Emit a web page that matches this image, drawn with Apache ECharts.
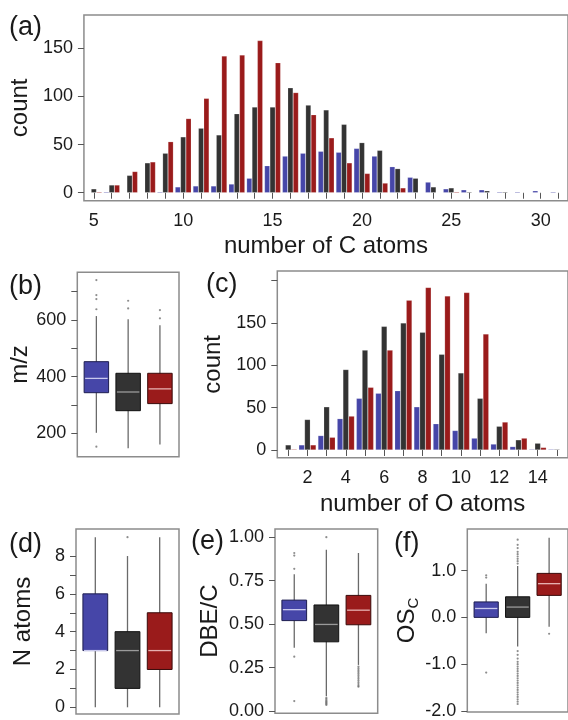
<!DOCTYPE html>
<html>
<head>
<meta charset="utf-8">
<script src="https://cdn.jsdelivr.net/npm/echarts@6/dist/echarts.min.js"></script>
<style>
html,body{margin:0;padding:0;background:#fff;overflow:hidden;}
#chart{width:568px;height:720px;}
</style>
</head>
<body>
<div id="chart"></div>
<script>
// ---------- data ----------
// (a) number of C atoms
const cAtoms = [5,6,7,8,9,10,11,12,13,14,15,16,17,18,19,20,21,22,23,24,25,26,27,28,29,30,31];
const cBlue  = [0,1,0,0,1,6,7,7,9,15,28,38,41,43,42,46,38,27,16,11,4,3,3,1,1,2,1];
const cDark  = [4,8,18,31,41,58,67,60,82,89,89,109,91,86,71,52,44,25,15,6,5,1,2,1,0,0,0];
const cRed   = [1,8,22,32,53,77,98,142,143,158,135,104,81,57,31,20,10,5,0,0,1,0,0,0,0,0,0];
const cLabels = [5,10,15,20,25,30];
const aYTicks = [0,50,100,150];

// (c) number of O atoms
const oAtoms = [1,2,3,4,5,6,7,8,9,10,11,12,13,14,15];
const oBlue  = [0,6,17,37,61,67,70,51,31,23,14,7,4,1,1];
const oDark  = [6,36,51,95,118,146,150,139,113,91,61,28,12,8,1];
const oRed   = [1,6,15,40,74,118,177,192,182,186,137,33,14,3,0];
const oLabels = [2,4,6,8,10,12,14];
const cYTicks = [0,50,100,150,200];
const cYLabels = [0,50,100,150];

// box stats: [low whisker, Q1, median, Q3, high whisker] for blue, dark, red
const mzBox = [[202,343.5,394,453,614],[147,280,346,412,603],[161,305,357,412,582]];
const mzOut = [[741,688,674,638,153],[668,641],[635,606]];
const mzTicks = [200,300,400,500,600,700];
const mzLabels = [200,400,600];

const nBox = [[0,3,3,6,9],[0,1,3,4,8],[0,2,3,5,9]];
const nOut = [[],[9],[]];
const nTicks = [0,1,2,3,4,5,6,7,8];
const nLabels = [0,2,4,6,8];

const dbeBox = [[0.364,0.52,0.583,0.638,0.786],[0.085,0.398,0.498,0.61,0.928],[0.265,0.496,0.58,0.665,0.909]];
const dbeOut = [[0.909,0.894,0.818,0.3125,0.057],
  [1.0,0.075,0.068,0.06,0.055,0.05,0.045,0.04,0.035],
  [0.255,0.245,0.235,0.225,0.215,0.205,0.195,0.185,0.175,0.165,0.155,0.145,0.14]];
const dbeTicks = [0,0.25,0.5,0.75,1.0];

const osBox = [[-0.34,0,0.19,0.33,0.72],[-0.62,0,0.22,0.44,1.1],[-0.2,0.47,0.72,0.94,1.7]];
const osOut = [[0.9,0.85,-1.18],
  [1.15,1.2,1.25,1.3,1.35,1.4,1.48,1.55,1.66,-0.72,-0.8,-0.88,-0.95,-1.0,-1.05,-1.1,-1.15,-1.2,-1.25,-1.3,-1.35,-1.4,-1.45,-1.5,-1.55,-1.6,-1.65,-1.7,-1.75,-1.8,-1.85],
  [-0.35]];
const osTicks = [-2,-1,0,1];

// ---------- style ----------
const FONT = "'Liberation Sans', Arial, Helvetica, sans-serif";
const BLUE = '#4646a8', DARK = '#333333', RED = '#9a1b1b';
const FILL = [BLUE, DARK, RED];
const EDGE = ['#1e1e50', '#111111', '#3a0a0a'];
const MED  = ['#c9c9ee', '#9a9a9a', '#e6b0b0'];
const WHISK = '#6a6a6a';
const TXT = '#1a1a1a';
const TICK_FS = 18, NAME_FS = 24;

const chart = echarts.init(document.getElementById('chart'), null, {renderer:'canvas'});

function gridBox(left, top, width, height){
  return {left, top, width, height, show:true, borderColor:'#8c8c8c', borderWidth:1.5, backgroundColor:'transparent', containLabel:false};
}
const tickStyle = {show:true, length:6, inside:false, lineStyle:{color:'#555', width:1}};
const lblStyle = {color:TXT, fontSize:TICK_FS, fontFamily:FONT};
const nameStyle = {color:TXT, fontSize:NAME_FS, fontFamily:FONT};

function valAxis(gi, min, max, ticks, labels, fmt, extra){
  return Object.assign({
    type:'value', gridIndex:gi, min, max, scale:true,
    axisLine:{show:false}, splitLine:{show:false},
    axisTick: ticks ? Object.assign({customValues:ticks}, tickStyle) : {show:false},
    axisLabel: labels ? Object.assign({customValues:labels, margin:11, formatter: fmt || (v=>String(v))}, lblStyle) : {show:false}
  }, extra || {});
}

const grids = [
  gridBox(80, 15, 489.4, 185.7),      // a
  gridBox(77.3, 272.3, 101.7, 184.4), // b
  gridBox(277.3, 271, 292.4, 186.7),  // c
  gridBox(76, 529, 103, 185),         // d
  gridBox(275, 529, 102.7, 186.5),    // e
  gridBox(467.3, 529, 102.4, 184.5)   // f
];

const xAxes = [
  valAxis(0, 4.447, 31.53, cAtoms, cLabels, null, {name:'number of C atoms', nameLocation:'middle', nameGap:34, nameTextStyle:nameStyle}),
  valAxis(1, 0.4, 3.6, null, null),
  valAxis(2, 0.43, 15.58, oAtoms, oLabels, null, {name:'number of O atoms', nameLocation:'middle', nameGap:35, nameTextStyle:nameStyle}),
  valAxis(3, 0.4, 3.6, null, null),
  valAxis(4, 0.4, 3.6, null, null),
  valAxis(5, 0.4, 3.6, null, null)
];
const yAxes = [
  valAxis(0, -8.3, 184.6, aYTicks, aYTicks, null, {name:'count', nameLocation:'middle', nameGap:38, nameTextStyle:nameStyle}),
  valAxis(1, 117.6, 768.5, mzTicks, mzLabels, null, {name:'m/z', nameLocation:'middle', nameGap:37, nameTextStyle:nameStyle}),
  valAxis(2, -9.1, 211.4, cYTicks, cYLabels, null, {name:'count', nameLocation:'middle', nameGap:37, nameTextStyle:nameStyle}),
  valAxis(3, -0.355, 9.43, nTicks, nLabels, null, {name:'N atoms', nameLocation:'middle', nameGap:41, nameTextStyle:nameStyle}),
  valAxis(4, -0.0125, 1.047, dbeTicks, dbeTicks, v=>v.toFixed(2), {name:'DBE/C', nameLocation:'middle', nameGap:53, nameTextStyle:nameStyle}),
  valAxis(5, -2.02, 1.888, osTicks, osTicks, v=>v.toFixed(1), {name:'{n|OS}{s|C}', nameLocation:'middle', nameGap:45,
    nameTextStyle:Object.assign({}, nameStyle, {rich:{n:{fontSize:NAME_FS, fontFamily:FONT, color:TXT, verticalAlign:'bottom'}, s:{fontSize:15, fontFamily:FONT, color:TXT, verticalAlign:'bottom', padding:[0,0,-2,0]}}})})
];

function barSeries(gi, xs, ys, color){
  return {type:'bar', xAxisIndex:gi, yAxisIndex:gi, data: xs.map((x,i)=>[x, ys[i]]),
    itemStyle:{color, borderColor:'rgba(255,255,255,0.35)', borderWidth:0.5},
    barGap:'0%', barCategoryGap:'10%', silent:true, animation:false};
}

const BOX_W = 0.77;
function renderBox(params, api){
  const x = api.value(0);
  const lo = api.coord([x, api.value(1)]);
  const q1 = api.coord([x, api.value(2)]);
  const md = api.coord([x, api.value(3)]);
  const q3 = api.coord([x, api.value(4)]);
  const hi = api.coord([x, api.value(5)]);
  const ci = api.value(6);
  const w = api.size([BOX_W, 0])[0];
  return {type:'group', children:[
    {type:'line', shape:{x1:lo[0], y1:lo[1], x2:hi[0], y2:hi[1]}, style:{stroke:WHISK, lineWidth:1.3}},
    {type:'rect', shape:{x:q3[0]-w/2, y:q3[1], width:w, height:q1[1]-q3[1]}, style:{fill:FILL[ci], stroke:EDGE[ci], lineWidth:1}},
    {type:'line', shape:{x1:md[0]-w/2+1, y1:md[1], x2:md[0]+w/2-1, y2:md[1]}, style:{stroke:MED[ci], lineWidth:1.3}}
  ]};
}
function boxSeries(gi, stats, outs){
  return [
    {type:'custom', xAxisIndex:gi, yAxisIndex:gi, renderItem:renderBox, silent:true, animation:false,
      data: stats.map((s,i)=>[i+1].concat(s).concat([i]))},
    {type:'scatter', xAxisIndex:gi, yAxisIndex:gi, symbol:'circle', symbolSize:2.2, silent:true, animation:false,
      itemStyle:{color:'#707070'}, z:3,
      data: [].concat(...outs.map((arr,i)=>arr.map(v=>[i+1, v])))}
  ];
}

const series = [
  barSeries(0, cAtoms, cBlue, BLUE), barSeries(0, cAtoms, cDark, DARK), barSeries(0, cAtoms, cRed, RED),
  barSeries(2, oAtoms, oBlue, BLUE), barSeries(2, oAtoms, oDark, DARK), barSeries(2, oAtoms, oRed, RED)
].concat(boxSeries(1, mzBox, mzOut), boxSeries(3, nBox, nOut), boxSeries(4, dbeBox, dbeOut), boxSeries(5, osBox, osOut));

function panelTitle(t, left, top){
  return {text:t, left, top, padding:0, textStyle:{fontSize:27, fontWeight:'normal', color:TXT, fontFamily:FONT}};
}

chart.setOption({
  animation:false,
  backgroundColor:'#ffffff',
  textStyle:{fontFamily:FONT},
  title:[panelTitle('(a)',9,14), panelTitle('(b)',9,273), panelTitle('(c)',206,271), panelTitle('(d)',9,531), panelTitle('(e)',191,528), panelTitle('(f)',394,530)],
  grid:grids, xAxis:xAxes, yAxis:yAxes, series
});
</script>
</body>
</html>
